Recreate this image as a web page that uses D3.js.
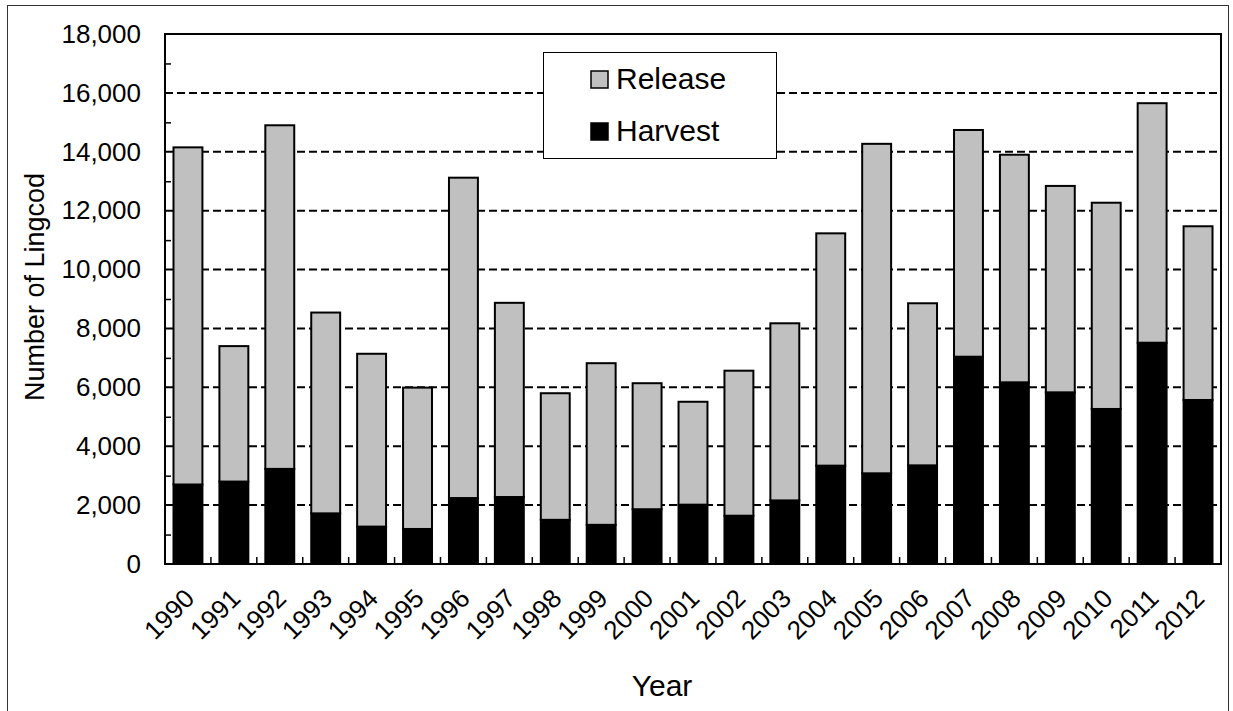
<!DOCTYPE html>
<html><head><meta charset="utf-8">
<script src="https://cdn.jsdelivr.net/npm/d3@7"></script>
<style>
body{margin:0;background:#fff}
svg{display:block}
text{font-family:"Liberation Sans",Arial,sans-serif;fill:#000}
</style>
</head><body>
<svg id="c" width="1233" height="711"></svg>
<script>
const years = ["1990","1991","1992","1993","1994","1995","1996","1997","1998","1999","2000","2001","2002","2003","2004","2005","2006","2007","2008","2009","2010","2011","2012"];
const harvest = [2700,2800,3230,1720,1270,1190,2240,2275,1500,1330,1860,2015,1640,2160,3340,3080,3350,7040,6170,5830,5265,7515,5570];
const release = [11450,4600,11670,6820,5870,4800,10880,6595,4300,5490,4280,3495,4925,6015,7890,11190,5505,7700,7730,7010,7005,8135,5900];
const yTicks = [0,2000,4000,6000,8000,10000,12000,14000,16000,18000];
const yMinorTicks = [1000,3000,5000,7000,9000,11000,13000,15000,17000];
const seriesKeys = ["harvest","release"];
const legendLabels = ["Release","Harvest"];
const yTitle = "Number of Lingcod";
const xTitle = "Year";

const colors = {harvest:"#000000", release:"#c0c0c0"};
const m = {l:165, r:1221, t:34, b:564};
const svg = d3.select("#c");

// outer frame
svg.append("rect").attr("x",7.5).attr("y",5.5).attr("width",1221).attr("height",730)
  .attr("fill","none").attr("stroke","#333").attr("stroke-width",1);

const x = d3.scaleBand().domain(years).range([m.l,m.r]).paddingInner(0.37).paddingOuter(0.185);
const y = d3.scaleLinear().domain([0,18000]).range([m.b,m.t]);
const step = x.step();

// gridlines
svg.append("g").selectAll("line").data(yTicks.filter(d=>d>0 && d<18000)).join("line")
  .attr("x1",m.l).attr("x2",m.r).attr("y1",d=>y(d)).attr("y2",d=>y(d))
  .attr("stroke","#000").attr("stroke-width",2).attr("stroke-dasharray","8,4");

// minor ticks on y (inside)
const minor = svg.append("g").attr("transform",`translate(${m.l},0)`)
  .call(d3.axisRight(y).tickValues(yMinorTicks).tickSize(6).tickFormat(""));
minor.select(".domain").remove();
minor.selectAll("line").attr("stroke","#000").attr("stroke-width",1.5);

// x inner ticks at band boundaries
svg.append("g").selectAll("line").data(years.slice(1)).join("line")
  .attr("x1",d=>x(d)-step*x.paddingInner()/2).attr("x2",d=>x(d)-step*x.paddingInner()/2)
  .attr("y1",m.b).attr("y2",m.b-7).attr("stroke","#000").attr("stroke-width",1.5);

// stacked bars
const table = years.map((yr,i)=>({year:yr, harvest:harvest[i], release:release[i]}));
const stacked = d3.stack().keys(seriesKeys)(table);
svg.append("g").selectAll("g").data(stacked).join("g")
  .attr("fill",d=>colors[d.key])
  .selectAll("rect").data(d=>d).join("rect")
  .attr("x",d=>x(d.data.year)).attr("width",x.bandwidth())
  .attr("y",d=>y(d[1])).attr("height",d=>y(d[0])-y(d[1]))
  .attr("stroke","#000").attr("stroke-width",2);

// plot border
svg.append("rect").attr("x",m.l).attr("y",m.t).attr("width",m.r-m.l).attr("height",m.b-m.t)
  .attr("fill","none").attr("stroke","#000").attr("stroke-width",2);

// y axis labels
const ya = svg.append("g").attr("transform",`translate(${m.l},0)`)
  .call(d3.axisLeft(y).tickValues(yTicks).tickSize(0).tickPadding(24).tickFormat(d3.format(",")));
ya.select(".domain").remove();
ya.selectAll("text").attr("font-size",26).attr("font-family",null);

// x axis labels
const xa = svg.append("g").attr("transform",`translate(0,${m.b})`)
  .call(d3.axisBottom(x).tickSize(0).tickPadding(0));
xa.select(".domain").remove();
xa.selectAll("text").attr("font-size",26).attr("font-family",null)
  .attr("y",0).attr("dy",0).attr("text-anchor","end")
  .attr("transform","translate(8,36) rotate(-45)");

// titles
svg.append("text").attr("transform","translate(44,287) rotate(-90)")
  .attr("text-anchor","middle").attr("font-size",27).text(yTitle);
svg.append("text").attr("x",662).attr("y",696).attr("text-anchor","middle")
  .attr("font-size",30).text(xTitle);

// legend
const lg = svg.append("g");
lg.append("rect").attr("x",543.5).attr("y",52.5).attr("width",233).attr("height",106)
  .attr("fill","#fff").attr("stroke","#000").attr("stroke-width",1);
const legendKeys = ["release","harvest"];
legendKeys.forEach((k,i)=>{
  const yy = 71 + i*52;
  lg.append("rect").attr("x",591).attr("y",yy).attr("width",17).attr("height",17)
    .attr("fill",colors[k]).attr("stroke","#000").attr("stroke-width",1.5);
  lg.append("text").attr("x",616).attr("y",yy+18).attr("font-size",30).text(legendLabels[i]);
});
</script>
</body></html>
